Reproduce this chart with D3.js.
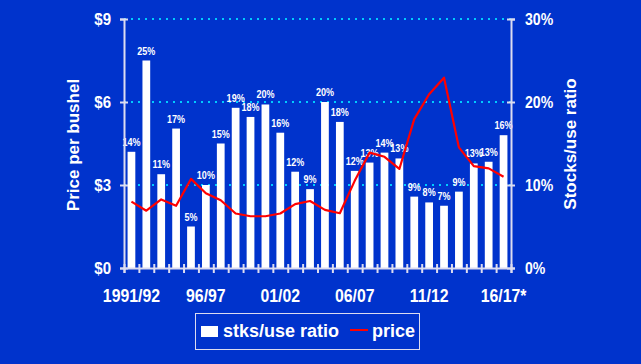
<!DOCTYPE html>
<html>
<head>
<meta charset="utf-8">
<script src="https://cdn.jsdelivr.net/npm/d3@7"></script>
<style>
  html, body { margin: 0; padding: 0; background: #0033cc; }
  svg { display: block; }
  text { font-family: "Liberation Sans", Arial, sans-serif; font-weight: bold; fill: #ffffff; }
</style>
</head>
<body>
<svg id="chart"></svg>
<script>
// marketing years
const seasons = ["1991/92", "92/93", "93/94", "94/95", "95/96", "96/97", "97/98", "98/99", "99/00", "00/01",
    "01/02", "02/03", "03/04", "04/05", "05/06", "06/07", "07/08", "08/09", "09/10", "10/11",
    "11/12", "12/13", "13/14", "14/15", "15/16", "16/17*"];

// stocks/use ratio (%) and the labels printed above the bars
const stocksUse = [14, 25, 11.3, 16.8, 5, 10, 15, 19.3, 18.2, 19.7, 16.3, 11.6, 9.5, 20, 17.6, 11.7,
    12.7, 13.9, 13.2, 8.6, 7.9, 7.5, 9.2, 12.6, 12.8, 16];
const ratioLabels = ["14%", "25%", "11%", "17%", "5%", "10%", "15%", "19%", "18%", "20%", "16%", "12%", "9%",
    "20%", "18%", "12%", "13%", "14%", "13%", "9%", "8%", "7%", "9%", "13%", "13%", "16%"];

// price per bushel ($)
const price = [2.40, 2.07, 2.48, 2.25, 3.22, 2.70, 2.45, 1.97, 1.87, 1.87, 1.97, 2.31, 2.42, 2.10,
    1.98, 3.15, 4.17, 4.02, 3.58, 5.38, 6.28, 6.88, 4.36, 3.68, 3.60, 3.30];

const xTickLabels = ["1991/92", "96/97", "01/02", "06/07", "11/12", "16/17*"];
const priceTicks = [0, 3, 6, 9];
const ratioTicks = [0, 10, 20, 30];

var wtot = 641,
    htot = 364;

var margin = { top: 19, right: 130, bottom: 96, left: 124 };

const svg = d3.select("#chart")
    .attr("width", wtot)
    .attr("height", htot);

svg.append("rect")
    .attr("width", wtot)
    .attr("height", htot)
    .attr("fill", "#0033cc");

const x = d3.scaleBand()
    .domain(seasons)
    .range([margin.left, wtot - margin.right])
    .paddingInner(0.48)
    .paddingOuter(0.24);

const xIdx = d3.scaleLinear()
    .domain([0, seasons.length])
    .range([margin.left, wtot - margin.right]);

const yPrice = d3.scaleLinear()
    .domain([0, 9])
    .range([htot - margin.bottom - 0, margin.top]);

const yRatio = d3.scaleLinear()
    .domain([0, 30])
    .range([htot - margin.bottom, margin.top]);

const axisColor = "#dcdcf0";

// condensed text helper (the original labels are a bit narrow)
function narrowText(sel, sx) {
    sel.attr("transform", function() {
        const t = d3.select(this);
        return `translate(${t.attr("data-x")},${t.attr("data-y")}) scale(${sx},1)`;
    });
}

// dotted grid lines
svg.append("g")
    .selectAll("line")
    .data(priceTicks.filter(d => d > 0))
    .join("line")
    .attr("x1", margin.left)
    .attr("x2", wtot - margin.right)
    .attr("y1", d => yPrice(d))
    .attr("y2", d => yPrice(d))
    .attr("stroke", "#00ccff")
    .attr("stroke-width", 2)
    .attr("stroke-dasharray", "2,5");

// bars
svg.append("g")
    .selectAll("rect")
    .data(seasons)
    .join("rect")
    .attr("x", d => x(d))
    .attr("width", x.bandwidth())
    .attr("y", (d, i) => yRatio(stocksUse[i]))
    .attr("height", (d, i) => yRatio(0) - yRatio(stocksUse[i]))
    .attr("fill", "#ffffff");

// bar labels
svg.append("g")
    .selectAll("text")
    .data(seasons)
    .join("text")
    .attr("data-x", d => x(d) + x.bandwidth() / 2)
    .attr("data-y", (d, i) => yRatio(stocksUse[i]) - 6)
    .attr("text-anchor", "middle")
    .attr("font-size", 10.5)
    .text((d, i) => ratioLabels[i])
    .call(narrowText, 0.86);

// price line
const line = d3.line()
    .x((d, i) => x(seasons[i]) + x.bandwidth() / 2)
    .y(d => yPrice(d));

svg.append("path")
    .datum(price)
    .attr("fill", "none")
    .attr("stroke", "#ff0000")
    .attr("stroke-width", 2.2)
    .attr("stroke-linejoin", "round")
    .attr("d", line);

// left axis
const leftAxis = svg.append("g")
    .attr("transform", `translate(${margin.left},0)`)
    .call(d3.axisLeft(yPrice).tickValues(priceTicks).tickSizeOuter(0).tickSize(4).tickFormat(""));
leftAxis.selectAll(".tick line").attr("x1", 4);

svg.append("g")
    .selectAll("text")
    .data(priceTicks)
    .join("text")
    .attr("data-x", margin.left - 13)
    .attr("data-y", d => yPrice(d) + 6)
    .attr("text-anchor", "end")
    .attr("font-size", 16)
    .text(d => "$" + d)
    .call(narrowText, 0.94);

// right axis
const rightAxis = svg.append("g")
    .attr("transform", `translate(${wtot - margin.right},0)`)
    .call(d3.axisRight(yRatio).tickValues(ratioTicks).tickSizeOuter(0).tickSize(4).tickFormat(""));
rightAxis.selectAll(".tick line").attr("x1", -4);

svg.append("g")
    .selectAll("text")
    .data(ratioTicks)
    .join("text")
    .attr("data-x", wtot - margin.right + 14)
    .attr("data-y", d => yRatio(d) + 6)
    .attr("text-anchor", "start")
    .attr("font-size", 16)
    .text(d => d + "%")
    .call(narrowText, 0.88);

// bottom axis, ticks between the seasons
const bottomAxis = svg.append("g")
    .attr("transform", `translate(0,${yPrice(0)})`)
    .call(d3.axisBottom(xIdx).tickValues(d3.range(seasons.length + 1)).tickSizeOuter(0).tickSize(5).tickFormat(""));
bottomAxis.selectAll(".tick line").attr("y1", -4);

svg.selectAll(".domain, .tick line")
    .attr("stroke", axisColor)
    .attr("stroke-width", 2);

svg.append("g")
    .selectAll("text")
    .data(xTickLabels)
    .join("text")
    .attr("data-x", d => x(d) + x.bandwidth() / 2)
    .attr("data-y", 302)
    .attr("text-anchor", "middle")
    .attr("font-size", 18)
    .text(d => d)
    .call(narrowText, 0.88);

// axis titles
svg.append("text")
    .attr("transform", `translate(79,145) rotate(-90)`)
    .attr("text-anchor", "middle")
    .attr("font-size", 17)
    .text("Price per bushel");

svg.append("text")
    .attr("transform", `translate(576,144) rotate(-90)`)
    .attr("text-anchor", "middle")
    .attr("font-size", 17)
    .text("Stocks/use ratio");

// legend
const legend = svg.append("g");
legend.append("rect")
    .attr("x", 195.5).attr("y", 313.5)
    .attr("width", 224).attr("height", 36)
    .attr("fill", "none")
    .attr("stroke", axisColor)
    .attr("stroke-width", 1);
legend.append("rect")
    .attr("x", 201).attr("y", 326)
    .attr("width", 17).attr("height", 11)
    .attr("fill", "#ffffff");
legend.append("text")
    .attr("x", 223).attr("y", 337)
    .attr("font-size", 18)
    .text("stks/use ratio");
legend.append("line")
    .attr("x1", 350).attr("x2", 368)
    .attr("y1", 330).attr("y2", 330)
    .attr("stroke", "#ff0000")
    .attr("stroke-width", 2);
legend.append("text")
    .attr("x", 372).attr("y", 337)
    .attr("font-size", 18)
    .text("price");
</script>
</body>
</html>
